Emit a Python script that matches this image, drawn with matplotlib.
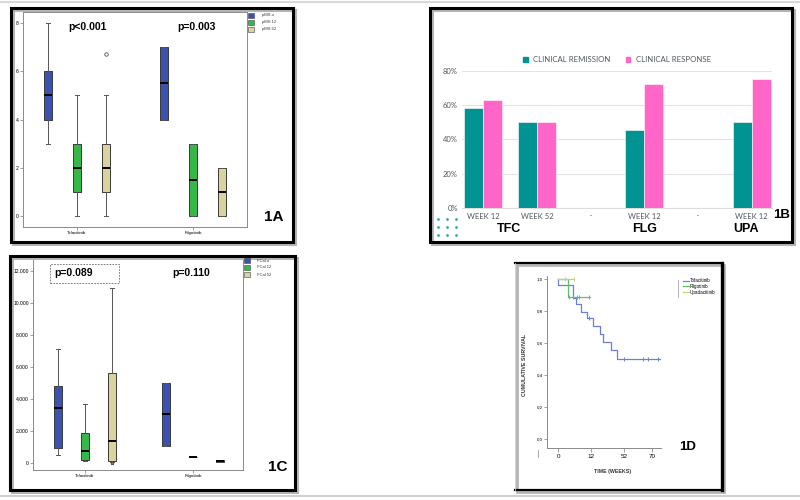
import matplotlib
matplotlib.use('Agg')
import numpy as np
from matplotlib import pyplot as plt
from matplotlib.patches import Rectangle
from matplotlib.lines import Line2D

plt.rcParams['font.family'] = ['Liberation Sans', 'DejaVu Sans']

W, H = 800, 500

#############################
## DATA
#############################
# 1A - pMS boxplots (Tofacitinib / Filgotinib)
pms_labels = ['pMS o', 'pMS 12', 'pMS 52']
pms_tofa_lo = [3, 0, 0]
pms_tofa_q1 = [4, 1, 1]
pms_tofa_med = [5, 2, 2]
pms_tofa_q3 = [6, 3, 3]
pms_tofa_hi = [8, 5, 5]
pms_tofa_out = [[], [], [6.7]]
pms_filgo_lo = [4, 0, 0]
pms_filgo_q1 = [4, 0, 0]
pms_filgo_med = [5.5, 1.5, 1.0]
pms_filgo_q3 = [7, 3, 2]
pms_filgo_hi = [7, 3, 2]
pms_filgo_out = [[], [], []]

# 1B - clinical remission / response
b_ticks = ['WEEK 12', 'WEEK 52', '·', 'WEEK 12', '·', 'WEEK 12']
remission = [58.5, 50, np.nan, 45.5, np.nan, 50]
response = [62.8, 50, np.nan, 72.2, np.nan, 75.3]
group_names = ['TFC', 'FLG', 'UPA']

# 1C - FCal boxplots
fcal_labels = ['FCal o', 'FCal 12', 'FCal 52']
fcal_tofa_lo = [460, 120, 40]
fcal_tofa_q1 = [940, 170, 120]
fcal_tofa_med = [3400, 750, 1380]
fcal_tofa_q3 = [4800, 1850, 5580]
fcal_tofa_hi = [7100, 3650, 10900]
fcal_tofa_out = [[], [], [0]]
fcal_filgo_lo = [1060, 350, 30]
fcal_filgo_q1 = [1060, 350, 30]
fcal_filgo_med = [3020, 350, 80]
fcal_filgo_q3 = [4960, 350, 150]
fcal_filgo_hi = [4960, 350, 150]
fcal_filgo_out = [[], [], []]

# 1D - Kaplan-Meier (x in axis units, ticks relabelled)
km_ticks = [0, 12, 24, 34.2]
km_ticklabels = ['0', '12', '52', '70']
tofa_t = [0, 0, 5.45, 6.5, 8.5, 10.4, 12.9, 15.3, 16.2, 19.3, 21.5, 37]
tofa_s = [1.0, 0.964, 0.88, 0.843, 0.795, 0.755, 0.705, 0.655, 0.605, 0.555, 0.50, 0.50]
tofa_cens = [11.3, 24, 30.9, 32.7, 36.4]
filgo_t = [0, 3.5, 11.6]
filgo_s = [1.0, 0.889, 0.889]
filgo_cens = [4.0, 5.5, 6.9, 7.6, 11.3]
upa_t = [0, 5.8]
upa_s = [1.0, 1.0]
upa_cens = [2.5, 5.8]

box_colors = ['#3C52B2', '#36B849', '#D9D39E']
teal = '#009391'
pink = '#FF66C7'

#############################
## HELPERS
#############################
fig = plt.figure(figsize=(8, 5), dpi=100)
fig.patch.set_facecolor('white')


def fx(x):
    return x / W


def fy(y):
    return 1 - y / H


def axes_px(x0, y0, x1, y1):
    return fig.add_axes([fx(x0), fy(y1), (x1 - x0) / W, (y1 - y0) / H])


def rect_px(x0, y0, x1, y1, **kw):
    r = Rectangle((fx(x0), fy(y1)), (x1 - x0) / W, (y1 - y0) / H,
                  transform=fig.transFigure, **kw)
    fig.add_artist(r)
    return r


def frame(x0, y0, x1, y1, lw=2.2):
    rect_px(x0 + 2, y0 + 2, x1 + 2, y1 + 2, fill=False, ec='#b5b5b5', lw=lw)
    rect_px(x0, y0, x1, y1, fill=False, ec='black', lw=lw)


def hline_px(x0, x1, y, **kw):
    fig.add_artist(Line2D([fx(x0), fx(x1)], [fy(y), fy(y)], transform=fig.transFigure, **kw))


def vline_px(x, y0, y1, **kw):
    fig.add_artist(Line2D([fx(x), fx(x)], [fy(y0), fy(y1)], transform=fig.transFigure, **kw))


def box_stats(lo, q1, med, q3, hi, out):
    return [dict(whislo=a, q1=b, med=c, q3=d, whishi=e, fliers=f)
            for a, b, c, d, e, f in zip(lo, q1, med, q3, hi, out)]


def draw_boxes(ax, stats, positions, width):
    bp = ax.bxp(stats, positions=positions, widths=width, patch_artist=True,
                manage_ticks=False, capwidths=width * 0.45,
                boxprops=dict(ec='#3a3a3a', lw=0.7),
                medianprops=dict(color='black', lw=1.4),
                whiskerprops=dict(color='#555555', lw=0.7),
                capprops=dict(color='#555555', lw=0.7),
                flierprops=dict(marker='o', mfc='white', mec='#555555', ms=2.5, mew=0.6))
    for patch, c in zip(bp['boxes'], box_colors):
        patch.set_facecolor(c)


def style_box_axes(ax):
    for s in ax.spines.values():
        s.set_color('#8a8a8a')
        s.set_linewidth(0.7)
    ax.tick_params(axis='both', labelsize=3.2, length=2, width=0.5, color='#777777', pad=1)
    ax.tick_params(axis='y', labelsize=3.6)


#############################
## BACKGROUND LINES / FRAMES
#############################
hline_px(0, 800, 2, color='#d8d8d8', lw=1.5)
hline_px(0, 800, 496, color='#d0d0d0', lw=1.5)

frame(11, 8, 293, 242)
frame(430, 8, 792, 242)
frame(10, 256, 295, 490)
# 1D frame: thin left side, black top/right/bottom
rect_px(517, 265, 724, 492, fill=False, ec='#b5b5b5', lw=2.0)
hline_px(515, 722, 263, color='black', lw=1.6)
hline_px(515, 722, 490, color='black', lw=1.6)
vline_px(722, 263, 490, color='black', lw=2.4)
vline_px(515, 263, 490, color='#c8c8c8', lw=0.6)

#############################
## 1A
#############################
ax = axes_px(23, 12, 247, 227)
offs = [-0.25, 0, 0.25]
draw_boxes(ax, box_stats(pms_tofa_lo, pms_tofa_q1, pms_tofa_med, pms_tofa_q3, pms_tofa_hi, pms_tofa_out),
           [1 + o for o in offs], 0.065)
draw_boxes(ax, box_stats(pms_filgo_lo, pms_filgo_q1, pms_filgo_med, pms_filgo_q3, pms_filgo_hi, pms_filgo_out),
           [2 + o for o in offs], 0.065)
ax.set_xlim(0.534, 2.466)
ax.set_ylim(-0.46, 8.46)
ax.set_yticks([0, 2, 4, 6, 8])
ax.set_xticks([1, 2])
ax.set_xticklabels(['Tofacitinib', 'Filgotinib'])
style_box_axes(ax)

for i, (lab, c) in enumerate(zip(pms_labels, box_colors)):
    y = 13 + 7 * i
    rect_px(248, y, 254, y + 4.5, fc=c, ec='#444444', lw=0.4)
    fig.text(fx(262), fy(y + 2.3), lab, fontsize=3, va='center', ha='left', color='#333333')

fig.text(fx(87), fy(27), 'p<0.001', fontsize=7.5, fontweight='bold', ha='center', va='center')
fig.text(fx(196), fy(27), 'p=0.003', fontsize=7.5, fontweight='bold', ha='center', va='center')
fig.text(fx(264), fy(217), '1A', fontsize=11, fontweight='bold', ha='left', va='center')

#############################
## 1B
#############################
ax = axes_px(462, 71, 772, 208)
x = np.arange(len(b_ticks))
w = 0.355
ax.bar(x - w / 2, remission, w, color=teal, ec='white', lw=0.4, zorder=3)
ax.bar(x + w / 2, response, w, color=pink, ec='white', lw=0.4, zorder=3)
ax.set_xlim(-0.40, 5.38)
ax.set_ylim(0, 80)
ax.set_yticks([0, 20, 40, 60, 80])
ax.set_yticklabels([f'{v}%' for v in [0, 20, 40, 60, 80]], family=['Lato', 'DejaVu Sans'])
ax.set_xticks(x)
ax.set_xticklabels(b_ticks, family=['Lato', 'DejaVu Sans'])
ax.yaxis.grid(True, color='#e4e4e4', lw=0.8)
ax.set_axisbelow(True)
for s in ['top', 'right', 'left']:
    ax.spines[s].set_visible(False)
ax.spines['bottom'].set_color('#dddddd')
ax.tick_params(axis='y', length=0, labelsize=5.5, labelcolor='#4e5863', pad=3)
ax.tick_params(axis='x', length=0, labelsize=5.5, labelcolor='#4e5863', pad=3.5)
for name, pos in zip(group_names, [0.47, 3.0, 4.9]):
    ax.text(pos, -0.153, name, transform=ax.get_xaxis_transform(), fontsize=9,
            fontweight='bold', ha='center', va='center')
handles = [Rectangle((0, 0), 1, 1, color=teal), Rectangle((0, 0), 1, 1, color=pink)]
ax.legend(handles, ['CLINICAL REMISSION', 'CLINICAL RESPONSE'], loc='center',
          bbox_to_anchor=(0.5, 1 + 11 / 137), ncol=2, frameon=False,
          prop=dict(family=['Lato', 'DejaVu Sans'], size=5.6), labelcolor='#4e5863',
          handlelength=0.55, handleheight=0.55, columnspacing=2.0, handletextpad=0.7)

gx, gy = np.meshgrid([438, 447, 456], [219, 227, 235])
fig.add_artist(Line2D(fx(gx.ravel()), fy(gy.ravel()), transform=fig.transFigure,
                      ls='none', marker='o', ms=1.0, color='#3aa8a8'))
fig.text(fx(773), fy(215), '1B', fontsize=9.5, fontweight='bold', ha='left', va='center')

#############################
## 1C
#############################
ax = axes_px(33, 259, 243, 470)
draw_boxes(ax, box_stats(fcal_tofa_lo, fcal_tofa_q1, fcal_tofa_med, fcal_tofa_q3, fcal_tofa_hi, fcal_tofa_out),
           [1 + o for o in offs], 0.071)
draw_boxes(ax, box_stats(fcal_filgo_lo, fcal_filgo_q1, fcal_filgo_med, fcal_filgo_q3, fcal_filgo_hi, fcal_filgo_out),
           [2 + o for o in offs], 0.071)
for ln in ax.lines:
    if ln.get_marker() == 'o':
        ln.set_marker('*')
        ln.set_markersize(2.5)
ax.set_xlim(0.519, 2.463)
ax.set_ylim(-456, 12731)
yt = [0, 2000, 4000, 6000, 8000, 10000, 12000]
ax.set_yticks(yt)
ax.set_yticklabels(['0'] + [f'{v // 1000}.000' for v in yt[1:]])
ax.set_xticks([1, 2])
ax.set_xticklabels(['Tofacitinib', 'Filgotinib'])
style_box_axes(ax)

for i, (lab, c) in enumerate(zip(fcal_labels, box_colors)):
    y = 258 + 7 * i
    rect_px(244, y, 250, y + 5, fc=c, ec='#444444', lw=0.4)
    fig.text(fx(257), fy(y + 2.5), lab, fontsize=3, va='center', ha='left', color='#333333')

rect_px(50, 264, 119, 283, fill=False, ec='#666666', lw=0.6, ls=(0, (2, 1.5)))
fig.text(fx(74), fy(273), 'p=0.089', fontsize=7.5, fontweight='bold', ha='center', va='center')
fig.text(fx(191), fy(273), 'p=0.110', fontsize=7.5, fontweight='bold', ha='center', va='center')
fig.text(fx(268), fy(467), '1C', fontsize=11, fontweight='bold', ha='left', va='center')

#############################
## 1D
#############################
ax = axes_px(547, 276, 661, 448)


def surv_at(ts, ss, t):
    idx = np.searchsorted(ts, t, side='right') - 1
    return np.array(ss)[idx]


curves = [
    (tofa_t, tofa_s, tofa_cens, '#6d7fd4', 'Tofacitinib'),
    (filgo_t, filgo_s, filgo_cens, '#5cc35c', 'Filgotinib'),
    (upa_t, upa_s, upa_cens, '#d6c879', 'Upadacitinib'),
]
for ts, ss, cens, col, lab in curves:
    ax.step(ts, ss, where='post', color=col, lw=0.9, label=lab)
    ax.plot(cens, surv_at(ts, ss, cens), ls='none', marker='|', ms=3, mew=0.7, color=col)

ax.set_xlim(-4.0, 37.45)
ax.set_ylim(-0.056, 1.019)
ax.set_yticks([0, 0.2, 0.4, 0.6, 0.8, 1.0])
ax.set_yticklabels(['0,0', '0,2', '0,4', '0,6', '0,8', '1,0'])
ax.set_xticks(km_ticks)
ax.set_xticklabels(km_ticklabels)
for s in ['top', 'right']:
    ax.spines[s].set_visible(False)
for s in ['left', 'bottom']:
    ax.spines[s].set_color('#8a8a8a')
    ax.spines[s].set_linewidth(0.7)
ax.tick_params(axis='y', labelsize=3.2, length=2, width=0.5, color='#777777', pad=1)
ax.tick_params(axis='x', labelsize=4.5, length=3, width=0.5, color='#777777', pad=1.5)
ax.legend(loc='upper left', bbox_to_anchor=(1.17, 1.0), frameon=False, fontsize=3.3,
          handlelength=1.3, labelspacing=0.15, borderpad=0, handletextpad=0.3)
vline_px(678, 280, 297, color='#bbbbbb', lw=0.8)
vline_px(538, 450, 457, color='#999999', lw=0.6)

fig.text(fx(613), fy(472), 'TIME (WEEKS)', fontsize=3.8, fontweight='bold', ha='center', va='center', color='#333333')
fig.text(fx(524), fy(365), 'CUMULATIVE SURVIVAL', fontsize=3.8, fontweight='bold', rotation=90,
         ha='center', va='center', color='#333333')
fig.text(fx(679), fy(447), '1D', fontsize=9.5, fontweight='bold', ha='left', va='center')

plt.savefig('out.png', dpi=100)
plt.clf()
